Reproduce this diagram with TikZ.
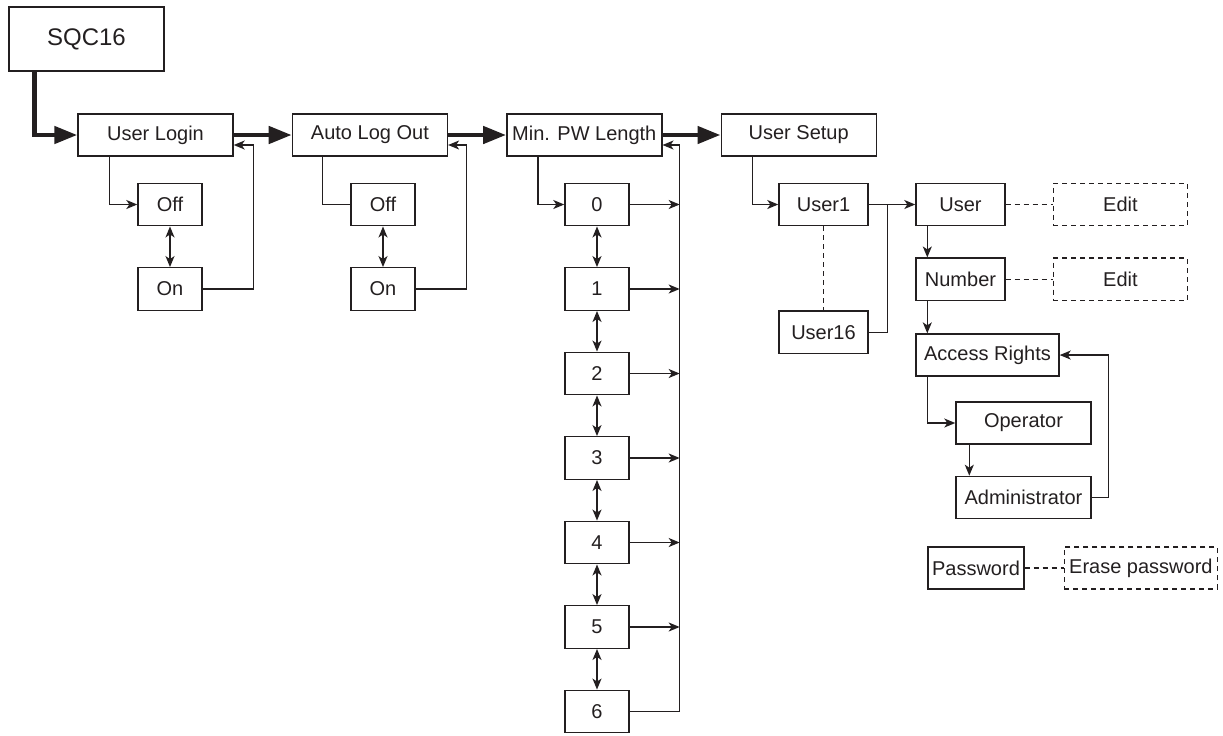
\documentclass[tikz,border=0pt]{standalone}
\usepackage{fontspec}
\setmainfont{Liberation Sans}
\usetikzlibrary{arrows.meta, positioning}
\definecolor{ink}{RGB}{35,31,32}

\begin{document}
\begin{tikzpicture}[
  x=0.5pt, y=-0.5pt,
  node distance=20.3pt and 29pt,
  line width=0.7pt, draw=ink, text=ink,
  box/.style={draw=ink, inner sep=1.5pt, minimum height=21pt, font=\fontsize{10}{12}\selectfont},
  mainbox/.style={box, minimum width=77.5pt},
  smallbox/.style={box, minimum width=32pt, minimum height=21.25pt},
  userbox/.style={box, minimum width=44.5pt, minimum height=21.25pt},
  editbox/.style={box, dash pattern=on 2.5pt off 2pt, minimum width=67pt, minimum height=21.25pt},
  arrow/.style={draw=ink, -{Stealth[length=5.5pt, width=4.5pt, inset=1.5pt]}},
  dbl/.style={draw=ink, {Stealth[length=5.5pt, width=4.5pt, inset=1.5pt]}-{Stealth[length=5.5pt, width=4.5pt, inset=1.5pt]}},
  thickarrow/.style={draw=ink, line width=2.3pt, -{Triangle[length=11.5pt, width=8.5pt]}},
  dashline/.style={draw=ink, dash pattern=on 2.5pt off 2pt}
]
\useasboundingbox (0,0) rectangle (1223,735);

\node[box, minimum width=77.5pt, minimum height=32pt, font=\fontsize{12}{14}\selectfont] (sqc) at (86.5,39) {SQC16};
\node[mainbox] (login) at (155.5,135) {User Login};
\node[mainbox, right=of login] (autolog) {Auto Log Out};
\node[mainbox, right=of autolog] (minpw) {Min. PW Length};
\node[mainbox, right=of minpw] (setup) {User Setup};

\node[smallbox] (loginoff) at (170,204.5) {Off};
\node[smallbox, below=of loginoff] (loginon) {On};
\node[smallbox] (autooff) at (383,204.5) {Off};
\node[smallbox, below=of autooff] (autoon) {On};

\node[smallbox] (d0) at (597,204.5) {0};
\foreach \i [remember=\i as \j (initially 0)] in {1,...,6}
  \node[smallbox, below=of d\j] (d\i) {\i};

\node[userbox] (user1) at (823.5,204.5) {User1};
\node[userbox, below=42pt of user1] (user16) {User16};
\node[userbox] (user) at (960.5,204.5) {User};
\node[editbox, right=23.5pt of user] (edituser) {Edit};
\node[userbox, below=15.5pt of user] (number) {Number};
\node[editbox, right=23.5pt of number] (editnumber) {Edit};
\node[box, minimum width=71.5pt, below=16pt of number.south west, anchor=north west] (access) {Access Rights};
\node[box, minimum width=67.5pt] (operator) at (1023.5,423) {Operator};
\node[box, minimum width=67.5pt, below=15.5pt of operator] (admin) {Administrator};
\node[box, minimum width=48pt] (password) at (976,568) {Password};
\node[editbox, minimum width=76.5pt, minimum height=21pt, right=19.5pt of password] (erase) {Erase password};

\draw[thickarrow] ([xshift=13pt]sqc.south west) |- (login.west);
\draw[thickarrow] (login) -- (autolog);
\draw[thickarrow] (autolog) -- (minpw);
\draw[thickarrow] (minpw) -- (setup);

\draw[arrow] ([xshift=16pt]login.south west) |- (loginoff.west);
\draw[dbl] (loginoff) -- (loginon);
\draw[arrow] (loginon.east) -- ++(25.5pt,0) |- ([yshift=-5pt]login.east);
\draw ([xshift=15.5pt]autolog.south west) |- (autooff.west);
\draw[dbl] (autooff) -- (autoon);
\draw[arrow] (autoon.east) -- ++(25.5pt,0) |- ([yshift=-5pt]autolog.east);

\draw[arrow] ([xshift=16pt]minpw.south west) |- (d0.west);
\coordinate (rail) at ([xshift=25pt]d6.east);
\foreach \i in {0,...,5}
  \draw[arrow] (d\i.east) -- (d\i.east -| rail);
\foreach \i [remember=\i as \j (initially 0)] in {1,...,6}
  \draw[dbl] (d\j) -- (d\i);
\draw[arrow] (d6.east) -- (rail) |- ([yshift=-5pt]minpw.east);

\draw[arrow] ([xshift=16pt]setup.south west) |- (user1.west);
\draw[dashline] (user1) -- (user16);
\draw[arrow] (user1) -- (user);
\draw (user16.east) -| ([xshift=9.5pt]user1.east);
\draw[dashline] (user) -- (edituser);
\draw[dashline] (number) -- (editnumber);
\draw[arrow] ([xshift=6pt]user.south west) -- ([xshift=6pt]number.north west);
\draw[arrow] ([xshift=6pt]number.south west) -- ([xshift=6pt]access.north west);
\draw[arrow] ([xshift=6pt]access.south west) |- (operator.west);
\draw[arrow] ([xshift=7pt]operator.south west) -- ([xshift=7pt]admin.north west);
\draw[arrow] (admin.east) -- ++(8.5pt,0) |- (access.east);
\draw[dashline] (password) -- (erase);
\end{tikzpicture}
\end{document}
